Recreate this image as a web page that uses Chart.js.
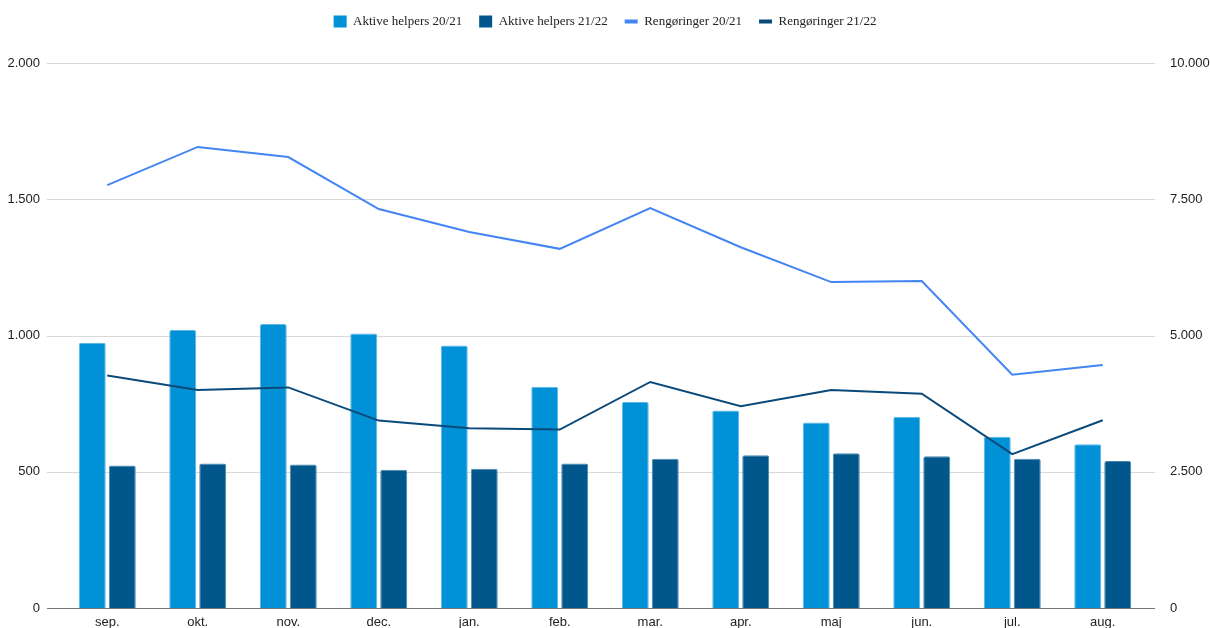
<!DOCTYPE html>
<html>
<head>
<meta charset="utf-8">
<script src="https://cdn.jsdelivr.net/npm/chart.js@4.4.1/dist/chart.umd.min.js"></script>
<style>
  html, body { margin: 0; padding: 0; background: #fff; }
  #wrap { width: 1210px; height: 628px; position: relative; }
</style>
</head>
<body>
<div id="wrap"><canvas id="myChart" width="1210" height="628"></canvas></div>
<script>
// months on the x axis
const months = ['sep.', 'okt.', 'nov.', 'dec.', 'jan.', 'feb.', 'mar.', 'apr.', 'maj', 'jun.', 'jul.', 'aug.'];

// bars, left axis
const helpers2021 = [973, 1020, 1042, 1007, 963, 812, 756, 725, 681, 702, 628, 601];
const helpers2122 = [523, 530, 527, 507, 511, 530, 548, 561, 568, 557, 548, 539];

// lines, right axis
const cleanings2021 = [7760, 8460, 8275, 7320, 6900, 6590, 7340, 6620, 5980, 6000, 4280, 4458];
const cleanings2122 = [4268, 4001, 4048, 3439, 3298, 3274, 4147, 3701, 4001, 3933, 2822, 3444];

// tick values
const leftTicks = [0, 500, 1000, 1500, 2000];
const rightTicks = [0, 2500, 5000, 7500, 10000];

function danish(n) {
    return String(n).replace(/\B(?=(\d{3})+(?!\d))/g, '.');
}

const tickFont = { family: 'Liberation Sans', size: 13, lineHeight: 1 };

// legend sits a bit higher, with more room between it and the plot
const legendSpace = {
    id: 'legendSpace',
    beforeInit: function (chart) {
        const legend = chart.legend;
        const fit = legend.fit;
        legend.fit = function () {
            fit.call(this);
            this.height += 23;
        };
        const draw = legend.draw;
        legend.draw = function () {
            this.ctx.save();
            this.ctx.translate(0, -2);
            draw.call(this);
            this.ctx.restore();
        };
    }
};

// gridlines run a little wider than the plot area, like the original sheet chart
const wideGrid = {
    id: 'wideGrid',
    beforeDatasetsDraw: function (chart) {
        const c = chart.ctx, area = chart.chartArea, y = chart.scales.y;
        c.save();
        c.strokeStyle = '#d9d9d9';
        c.lineWidth = 1;
        leftTicks.forEach(function (v) {
            if (v === 0) return;
            const py = Math.round(y.getPixelForValue(v)) + 0.5;
            c.beginPath();
            c.moveTo(area.left - 15, py);
            c.lineTo(area.right + 7, py);
            c.stroke();
        });
        c.restore();
    },
    afterDatasetsDraw: function (chart) {
        const c = chart.ctx, area = chart.chartArea, y = chart.scales.y;
        const py = Math.round(y.getPixelForValue(0)) + 0.5;
        c.save();
        c.strokeStyle = '#777';
        c.lineWidth = 1;
        c.beginPath();
        c.moveTo(area.left - 15, py);
        c.lineTo(area.right + 7, py);
        c.stroke();
        c.restore();
    }
};

// fixed side width, and keep the big tick padding from eating vertical space
function sideAxisFit(axis) {
    axis.width = 62;
    axis.paddingTop = 7;
    axis.paddingBottom = 7;
}

var ctx = document.getElementById('myChart').getContext('2d');
var chart = new Chart(ctx, {
    type: 'bar',
    plugins: [legendSpace, wideGrid],
    data: {
        labels: months,
        datasets: [{
            label: 'Aktive helpers 20/21',
            data: helpers2021,
            backgroundColor: '#0091d6',
            borderColor: '#5bb5e4',
            borderWidth: 1,
            borderRadius: 2,
            borderSkipped: 'bottom',
            yAxisID: 'y',
            pointStyle: 'rect',
            order: 2
        }, {
            label: 'Aktive helpers 21/22',
            data: helpers2122,
            backgroundColor: '#01578b',
            borderColor: '#4a86ac',
            borderWidth: 1,
            borderRadius: 2,
            borderSkipped: 'bottom',
            yAxisID: 'y',
            pointStyle: 'rect',
            order: 2
        }, {
            type: 'line',
            label: 'Rengøringer 20/21',
            data: cleanings2021,
            borderColor: '#4485f4',
            backgroundColor: '#4485f4',
            borderWidth: 2,
            pointRadius: 0,
            tension: 0,
            yAxisID: 'y1',
            pointStyle: 'line',
            order: 1
        }, {
            type: 'line',
            label: 'Rengøringer 21/22',
            data: cleanings2122,
            borderColor: '#0a4a7a',
            backgroundColor: '#0a4a7a',
            borderWidth: 2,
            pointRadius: 0,
            tension: 0,
            yAxisID: 'y1',
            pointStyle: 'line',
            order: 1
        }]
    },
    options: {
        responsive: false,
        animation: false,
        layout: { padding: 0 },
        datasets: {
            bar: { categoryPercentage: 0.663, barPercentage: 0.9 }
        },
        plugins: {
            legend: {
                position: 'top',
                labels: {
                    usePointStyle: true,
                    pointStyleWidth: 13,
                    boxWidth: 12,
                    boxHeight: 12,
                    padding: 17,
                    color: '#222',
                    font: { family: 'Liberation Serif', size: 13 },
                    sort: function (a, b) { return a.datasetIndex - b.datasetIndex; },
                    generateLabels: function (chart) {
                        var items = Chart.defaults.plugins.legend.labels.generateLabels(chart);
                        items.forEach(function (it) {
                            it.lineWidth = it.pointStyle === 'line' ? 4 : 0;
                        });
                        return items;
                    }
                }
            },
            tooltip: { enabled: false }
        },
        scales: {
            x: {
                grid: { display: false, drawTicks: false },
                border: { display: false },
                afterFit: function (axis) { axis.height = 20; },
                ticks: { color: '#222', font: tickFont, padding: 8, maxRotation: 0 }
            },
            y: {
                position: 'left',
                min: 0,
                max: 2000,
                afterBuildTicks: function (axis) {
                    axis.ticks = leftTicks.map(function (v) { return { value: v }; });
                },
                afterFit: sideAxisFit,
                ticks: {
                    color: '#222',
                    font: tickFont,
                    padding: 22,
                    callback: function (v) { return danish(v); }
                },
                grid: { display: false, drawTicks: false },
                border: { display: false }
            },
            y1: {
                position: 'right',
                min: 0,
                max: 10000,
                afterBuildTicks: function (axis) {
                    axis.ticks = rightTicks.map(function (v) { return { value: v }; });
                },
                afterFit: sideAxisFit,
                ticks: {
                    color: '#222',
                    font: tickFont,
                    padding: 22,
                    callback: function (v) { return danish(v); }
                },
                grid: { display: false, drawTicks: false },
                border: { display: false }
            }
        }
    }
});
</script>
</body>
</html>
